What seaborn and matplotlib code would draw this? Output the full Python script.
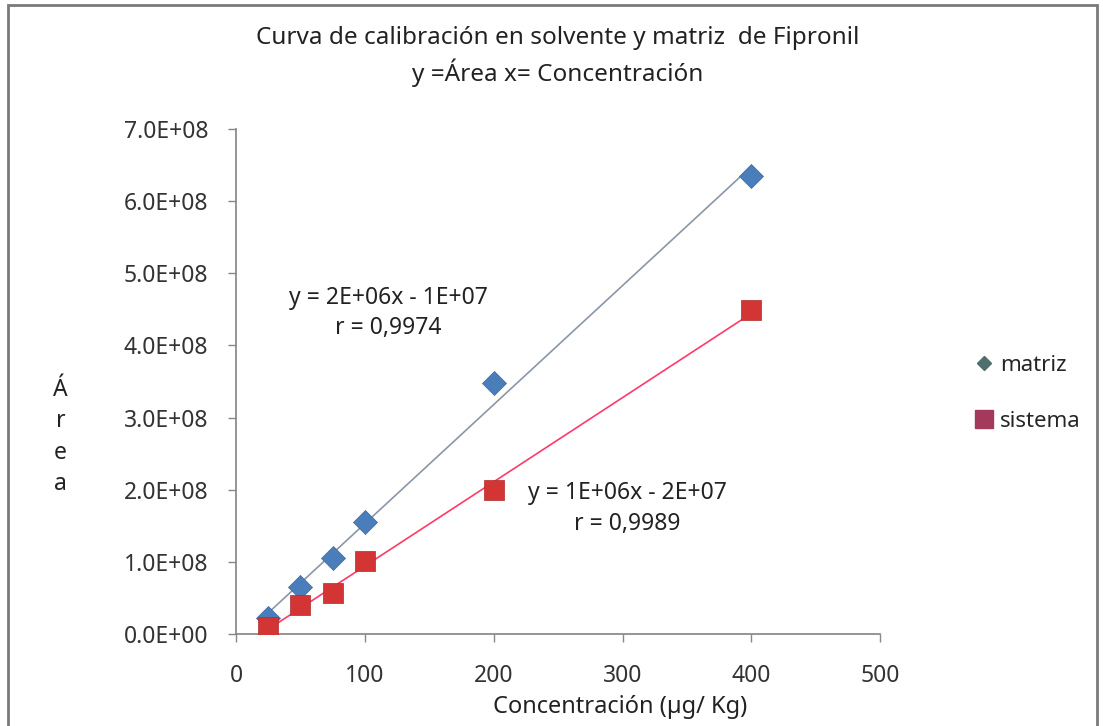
import matplotlib
matplotlib.use("Agg")
import matplotlib.pyplot as plt
from matplotlib.lines import Line2D
from matplotlib.patches import Rectangle
from matplotlib.ticker import FuncFormatter
import seaborn as sns
import pandas as pd

# values
concentracion = [25, 50, 75, 100, 200, 400]
area_matriz = [2.2e7, 6.5e7, 1.05e8, 1.55e8, 3.48e8, 6.35e8]
area_sistema = [1.0e7, 4.0e7, 5.6e7, 1.01e8, 2.0e8, 4.49e8]
eq_matriz = "y = 2E+06x - 1E+07\nr = 0,9974"
eq_sistema = "y = 1E+06x - 2E+07\nr = 0,9989"

df_m = pd.DataFrame({"x": concentracion, "y": area_matriz})
df_s = pd.DataFrame({"x": concentracion, "y": area_sistema})

sns.set_theme(style="white")
plt.rcParams["font.family"] = ["Noto Sans", "DejaVu Sans"]

fig = plt.figure(figsize=(11.03, 7.26), dpi=100)
ax = fig.add_axes([0.214, 0.127, 0.584, 0.695])

# trendlines
sns.regplot(data=df_m, x="x", y="y", scatter=False, ci=None,
            ax=ax, line_kws={"color": "#8a97a8", "lw": 1.2})
sns.regplot(data=df_s, x="x", y="y", scatter=False, ci=None,
            ax=ax, line_kws={"color": "#ff3a6a", "lw": 1.2})

sns.scatterplot(data=df_m, x="x", y="y", marker="D", color="#4a7ebb", s=150,
                edgecolor="#3a6aa5", linewidth=0.5, ax=ax, zorder=3)
sns.scatterplot(data=df_s, x="x", y="y", marker="s", color="#d33535", s=210,
                edgecolor="#b02a2a", linewidth=0.5, ax=ax, zorder=4)

ax.set_xlim(0, 500)
ax.set_ylim(0, 7e8)
ax.set_xticks(range(0, 501, 100))
ax.set_yticks([i * 1e8 for i in range(8)])
ax.yaxis.set_major_formatter(FuncFormatter(lambda v, p: f"{v:.1E}"))
ax.tick_params(axis="both", labelsize=16.5, colors="#333333", length=6, width=1,
               direction="out", bottom=True, left=True, color="#888888")
ax.tick_params(axis="y", pad=14)
ax.tick_params(axis="x", pad=16)
for s in ["top", "right"]:
    ax.spines[s].set_visible(False)
for s in ["left", "bottom"]:
    ax.spines[s].set_color("#888888")
ax.set_ylabel("")
ax.set_xlabel("Concentración (µg/ Kg)", fontsize=17, color="#222222")
ax.xaxis.set_label_coords((620 - 236) / 644, -0.122)

ax.text(118, 4.45e8, eq_matriz, ha="center", va="center", fontsize=16.5,
        color="#222222", linespacing=1.35)
ax.text(304, 1.74e8, eq_sistema, ha="center", va="center", fontsize=16.5,
        color="#222222", linespacing=1.35)

fig.text(0.506, 0.947, "Curva de calibración en solvente y matriz  de Fipronil",
         ha="center", va="center", fontsize=17.5, color="#222222")
fig.text(0.506, 0.900, "y =Área x= Concentración", ha="center", va="center",
         fontsize=17.5, color="#222222")
fig.text(0.055, 0.398, "Á\nr\ne\na", ha="center", va="center", fontsize=16.5,
         color="#222222", linespacing=1.4)

handles = [
    Line2D([], [], marker="D", ls="", color="#4f6f6f", markersize=7),
    Line2D([], [], marker="s", ls="", color="#a33a5c", markersize=13),
]
fig.legend(handles, ["matriz", "sistema"], loc="center left",
           bbox_to_anchor=(0.862, 0.458), frameon=False, fontsize=16,
           labelspacing=1.6, handletextpad=0.1, handlelength=1.2)

fig.patches.append(Rectangle((0.007, -0.01), 0.988, 1.003, transform=fig.transFigure,
                             fill=False, edgecolor="#7a7a7a", lw=2))

fig.savefig("out.png", dpi=100)
